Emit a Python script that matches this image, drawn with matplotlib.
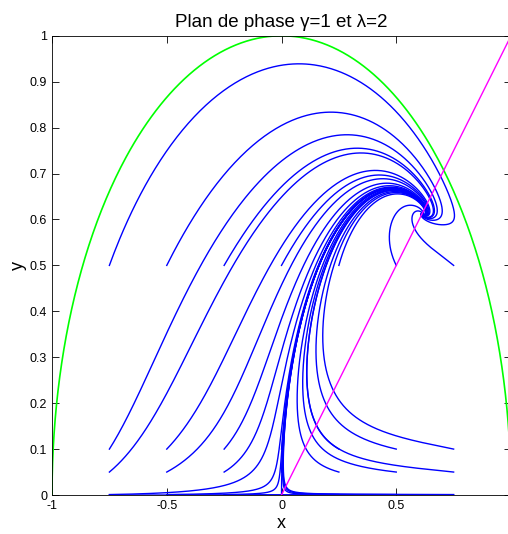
import numpy as np
import matplotlib.pyplot as plt

# model parameters (from the title)
gamma = 1.0
lam = 2.0

# initial conditions of the trajectories
x_start = [-0.75, -0.5, -0.25, 0.0, 0.25, 0.5, 0.75]
y_start = [0.5, 0.1, 0.05, 0.001, 0.0]

t_end = 25.0
dt = 0.005


def rhs(x, y):
    s = 2 * x**2 + gamma * (1 - x**2 - y**2)
    dx = -3 * x + lam * np.sqrt(1.5) * y**2 + 1.5 * x * s
    dy = -lam * np.sqrt(1.5) * x * y + 1.5 * y * s
    return dx, dy


X0, Y0 = np.meshgrid(x_start, y_start)
x = X0.ravel().astype(float)
y = Y0.ravel().astype(float)
xs, ys = [x.copy()], [y.copy()]
for _ in range(int(t_end / dt)):
    k1x, k1y = rhs(x, y)
    k2x, k2y = rhs(x + dt / 2 * k1x, y + dt / 2 * k1y)
    k3x, k3y = rhs(x + dt / 2 * k2x, y + dt / 2 * k2y)
    k4x, k4y = rhs(x + dt * k3x, y + dt * k3y)
    x = x + dt / 6 * (k1x + 2 * k2x + 2 * k3x + k4x)
    y = y + dt / 6 * (k1y + 2 * k2y + 2 * k3y + k4y)
    xs.append(x.copy())
    ys.append(y.copy())
xs = np.array(xs)
ys = np.array(ys)

plt.rcParams['font.family'] = ['Liberation Sans', 'DejaVu Sans']
fig = plt.figure(figsize=(5.08, 5.34), dpi=100)
ax = fig.add_axes([0.1024, 0.073, 0.9035, 0.86])

for i in range(xs.shape[1]):
    ax.plot(xs[:, i], ys[:, i], color='blue', lw=1.0)

theta = np.linspace(0, np.pi, 400)
ax.plot(np.cos(theta), np.sin(theta), color='#00ff00', lw=1.2)
ax.plot([0, 1], [0, 1], color='magenta', lw=1.0)

ax.set_xlim(-1, 1)
ax.set_ylim(0, 1)
ax.set_xticks([-1, -0.5, 0, 0.5])
ax.set_xticklabels(['-1', '-0.5', '0', '0.5'])
ax.set_yticks(np.arange(0, 1.01, 0.1))
ax.set_yticklabels(['0', '0.1', '0.2', '0.3', '0.4', '0.5', '0.6', '0.7', '0.8', '0.9', '1'])
ax.tick_params(direction='in', top=True, right=True, length=5, labelsize=9, width=0.6)
for sp in ax.spines.values():
    sp.set_linewidth(0.6)
ax.set_xlabel('x', fontsize=13, labelpad=2)
ax.set_ylabel('y', fontsize=13, labelpad=2)
ax.set_title('Plan de phase \u03b3=1 et \u03bb=2', fontsize=13.5)

fig.savefig('out.png', dpi=100)
